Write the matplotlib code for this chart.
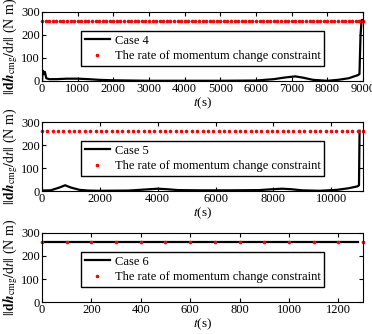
import matplotlib
matplotlib.use("Agg")
import matplotlib.pyplot as plt
import numpy as np

plt.rcParams["font.family"] = ["Liberation Serif", "DejaVu Serif"]
plt.rcParams["mathtext.fontset"] = "stix"
plt.rcParams["font.size"] = 9

# constraint level (N m)
limit = 260

# Case 4
t4 = [0, 20, 50, 80, 120, 200, 400, 700, 1000, 1300, 1600, 2000, 2500, 3000, 4000,
      5000, 6000, 6500, 6800, 7100, 7300, 7600, 8000, 8300, 8600, 8750, 8850, 8900,
      8930, 8960, 9000]
v4 = [0, 45, 30, 40, 12, 8, 8, 10, 10, 8, 5, 3, 2, 1, 1,
      1, 2, 8, 15, 20, 15, 5, 1, 5, 12, 20, 25, 30,
      200, 265, 265]
c4_t = np.arange(0, 9001, 100)

# Case 5
t5 = [0, 300, 600, 800, 1000, 1300, 1600, 2000, 3000, 3500, 4000, 4300, 4700, 5500,
      6500, 7500, 8000, 8300, 8600, 9000, 9600, 10200, 10600, 10900, 10960, 10980]
v5 = [2, 3, 15, 25, 15, 5, 2, 1, 2, 6, 10, 8, 4, 3,
      3, 4, 8, 10, 8, 3, 1, 5, 12, 20, 25, 262]
c5_t = np.arange(0, 11101, 185)

# Case 6
t6 = [0, 1281]
v6 = [262, 262]
c6_t = np.arange(0, 1301, 100)

panels = [
    (t4, v4, c4_t, "Case 4", 9000, 1000, 0.7575),
    (t5, v5, c5_t, "Case 5", 11100, 2000, 0.4281),
    (t6, v6, c6_t, "Case 6", 1300, 200, 0.0958),
]

fig = plt.figure(figsize=(3.72, 3.34), dpi=100)
ylab = r"$||\mathbf{d}\boldsymbol{h}_{\rm cmg}/{\rm d}t||$ (N m)"

for t, v, ct, name, xmax, step, bottom in panels:
    ax = fig.add_axes([0.1129, bottom, 0.863, 0.2066])
    ax.plot(t, v, color="black", lw=1.6, label=name)
    ax.plot(ct, np.full(len(ct), limit), ".", color="red", ms=3.2, clip_on=False,
            label="The rate of momentum change constraint")
    ax.set_xlim(0, xmax)
    ax.set_ylim(0, 300)
    ax.set_xticks(np.arange(0, xmax + 1, step))
    ax.set_yticks([0, 100, 200, 300])
    ax.tick_params(direction="in", top=True, right=True, length=3, pad=1.5)
    ax.set_xlabel(r"$t$(s)", labelpad=0, fontsize=9.5)
    ax.set_ylabel(ylab, fontsize=10)
    ax.yaxis.set_label_coords(-0.07, 0.5)
    leg = ax.legend(loc="center", bbox_to_anchor=(0.5, 0.47), fancybox=False,
                    edgecolor="black", framealpha=1, numpoints=1,
                    borderpad=0.3, labelspacing=0.3, handletextpad=0.4)
    leg.get_frame().set_linewidth(1.0)

fig.savefig("out.png", dpi=100)
